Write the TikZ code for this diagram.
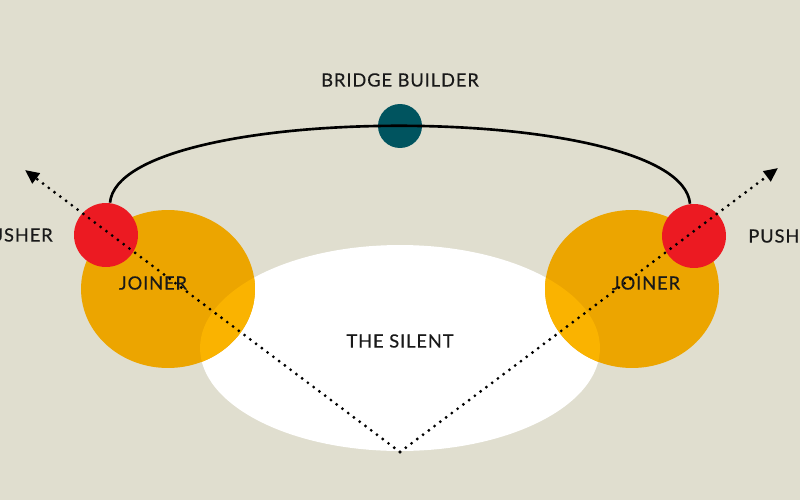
\documentclass[tikz,border=0pt]{standalone}
\usepackage{fontspec}
\setmainfont{Lato}[LetterSpace=5, FakeBold=0.4]
\usetikzlibrary{arrows.meta}
\definecolor{paper}{RGB}{224,222,207}
\definecolor{joiner}{RGB}{236,165,0}
\definecolor{joinerlight}{RGB}{250,179,0}
\definecolor{pusher}{RGB}{236,26,34}
\definecolor{builder}{RGB}{0,84,95}
\definecolor{ink}{RGB}{25,25,25}
\begin{document}
	\begin{tikzpicture}[
			x=0.02cm, y=-0.02cm,
			label/.style={text=ink, font=\fontsize{10.4}{12}\selectfont, inner sep=0pt},
			blob/.style={circle, minimum size=1.28cm, inner sep=0pt, fill=pusher},
			walk/.style={line width=1.8pt, line cap=round, dash pattern=on 0pt off 4.1pt, -{Triangle[length=8pt,width=7pt]}}
		]
		\clip (0,0) rectangle (800,500);
		\fill[paper] (0,0) rectangle (800,500);
		% the silent
		\fill[white] (400,348) ellipse [x radius=4cm, y radius=2.06cm];
		\fill[joiner] (168,289) ellipse [x radius=1.74cm, y radius=1.58cm];
		\fill[joiner] (632,289) ellipse [x radius=1.74cm, y radius=1.58cm];
		\begin{scope}
			\clip (400,348) ellipse [x radius=4cm, y radius=2.06cm];
			\fill[joinerlight] (168,289) ellipse [x radius=1.74cm, y radius=1.58cm];
			\fill[joinerlight] (632,289) ellipse [x radius=1.74cm, y radius=1.58cm];
		\end{scope}
		\node[blob] (pushL) at (106,235) {};
		\node[blob] (pushR) at (694,236) {};
		\node[circle, minimum size=0.88cm, inner sep=0pt, fill=builder] (bridge) at (400,126) {};
		\draw[line width=1.5pt] ([xshift=0.08cm]pushL.north) .. controls (120,100) and (680,100) .. ([xshift=-0.08cm]pushR.north);
		% labels
		\node[label] (bridgeTxt) at (400,80) {BRIDGE BUILDER};
		\node[label, anchor=east] (pushLTxt) at (53,235) {PUSHER};
		\node[label, anchor=west] (pushRTxt) at (748,236) {PUSHER};
		\node[label] (joinL) at (153,283) {JOINER};
		\node[label] (joinR) at (646,283) {JOINER};
		\node[label] (silent) at (400,341) {THE SILENT};
		% paths out
		\coordinate (base) at (400,452);
		\coordinate (outL) at (25,170);
		\coordinate (outR) at (778,168);
		\draw[walk] (base) -- (outL);
		\draw[walk] (base) -- (outR);
	\end{tikzpicture}
\end{document}
